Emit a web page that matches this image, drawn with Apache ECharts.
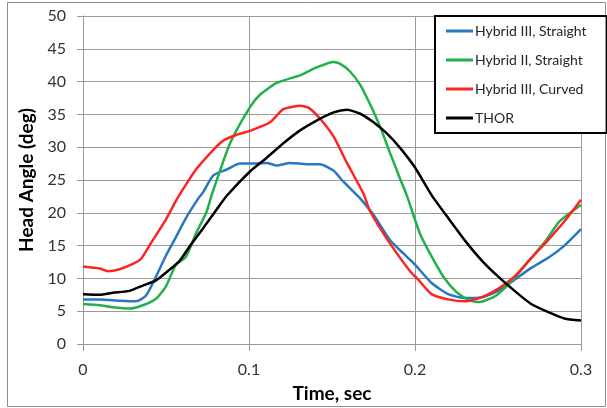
<!DOCTYPE html>
<html>
<head>
<meta charset="utf-8">
<script src="https://cdn.jsdelivr.net/npm/echarts@6/dist/echarts.min.js"></script>
<style>
  html, body { margin: 0; padding: 0; background: #fff; }
  #chart { width: 607px; height: 408px; }
</style>
</head>
<body>
<div id="chart"></div>
<script>
// values: [time (sec), head angle (deg)]
let hy3Straight = [
  [0, 6.8], [0.010, 6.8], [0.022, 6.6], [0.032, 6.5], [0.038, 7.4], [0.044, 10.3],
  [0.050, 13.5], [0.056, 16.3], [0.062, 19.2], [0.0695, 22.2], [0.0725, 23.2],
  [0.0785, 25.7], [0.0866, 26.6], [0.0946, 27.5], [0.1006, 27.5], [0.1107, 27.6],
  [0.1167, 27.2], [0.1247, 27.6], [0.1348, 27.4], [0.1428, 27.4], [0.151, 26.4],
  [0.157, 24.7], [0.165, 22.7], [0.167, 22.2], [0.175, 19.7], [0.185, 15.8],
  [0.193, 13.8], [0.200, 12.1], [0.210, 9.3], [0.220, 7.6], [0.230, 7.0],
  [0.240, 7.1], [0.250, 8.1], [0.260, 9.8], [0.270, 11.6], [0.280, 13.1],
  [0.290, 15.0], [0.300, 17.5]
]
let hy2Straight = [
  [0, 6.1], [0.010, 5.9], [0.018, 5.6], [0.028, 5.4], [0.036, 5.9], [0.044, 6.9],
  [0.050, 8.8], [0.056, 12.1], [0.062, 13.3], [0.068, 16.8], [0.0745, 20.2],
  [0.0775, 22.7], [0.0886, 30.6], [0.1006, 36.1], [0.1066, 38.0], [0.1167, 39.8],
  [0.131, 41.0], [0.141, 42.2], [0.151, 43.0], [0.155, 42.7], [0.161, 41.5],
  [0.167, 39.5], [0.173, 36.5], [0.179, 33.1], [0.185, 29.1], [0.191, 25.2],
  [0.195, 22.7], [0.199, 19.7], [0.203, 16.8], [0.209, 13.8], [0.217, 10.3],
  [0.225, 7.9], [0.233, 6.6], [0.239, 6.4], [0.249, 7.4], [0.259, 9.8],
  [0.269, 12.8], [0.279, 15.8], [0.287, 18.7], [0.300, 21.2]
]
let hy3Curved = [
  [0, 11.8], [0.010, 11.5], [0.015, 11.1], [0.022, 11.4], [0.030, 12.2], [0.035, 13.0],
  [0.040, 15.0], [0.050, 19.0], [0.0564, 22.0], [0.062, 24.3], [0.0684, 26.7], [0.0785, 29.6],
  [0.0845, 31.0], [0.0926, 31.9], [0.1006, 32.5], [0.1127, 33.8], [0.1207, 35.8],
  [0.131, 36.3], [0.136, 36.0], [0.143, 34.3], [0.151, 31.6], [0.159, 27.6],
  [0.169, 22.9], [0.173, 20.2], [0.185, 15.3], [0.197, 11.1], [0.202, 9.8],
  [0.210, 7.6], [0.220, 6.8], [0.230, 6.5], [0.240, 7.1], [0.250, 8.4],
  [0.260, 10.3], [0.270, 13.1], [0.280, 15.8], [0.290, 18.7], [0.300, 22.0]
]
let thor = [
  [0, 7.6], [0.010, 7.5], [0.018, 7.8], [0.028, 8.1], [0.036, 8.9], [0.044, 9.7],
  [0.052, 11.3], [0.058, 12.6], [0.064, 14.8], [0.0725, 17.7], [0.0805, 20.5],
  [0.0866, 22.6], [0.1006, 26.3], [0.1107, 28.4], [0.1207, 30.6], [0.131, 32.6],
  [0.141, 34.1], [0.151, 35.3], [0.159, 35.7], [0.167, 35.1], [0.175, 33.8],
  [0.183, 32.1], [0.191, 29.9], [0.200, 26.9], [0.210, 22.7], [0.220, 19.2],
  [0.230, 15.8], [0.240, 12.8], [0.250, 10.3], [0.260, 8.1], [0.270, 6.1],
  [0.280, 4.9], [0.290, 3.9], [0.300, 3.6]
]

let seriesNames = ['Hybrid III, Straight', 'Hybrid II, Straight', 'Hybrid III, Curved', 'THOR']
let seriesColors = ['#2878c0', '#22b04b', '#ff2424', '#000000']
let seriesData = [hy3Straight, hy2Straight, hy3Curved, thor]

let chart = echarts.init(document.getElementById('chart'))

let option = {
  animation: false,
  textStyle: { fontFamily: 'Lato' },
  graphic: [
    {
      type: 'rect',
      shape: { x: 7.5, y: 2.5, width: 598, height: 404 },
      style: { fill: 'none', stroke: '#8c8c8c', lineWidth: 1 },
      z: -1
    }
  ],
  grid: { left: 83, right: 26, top: 16, bottom: 55 },
  legend: {
    orient: 'vertical',
    left: 435,
    top: 16,
    padding: [7, 20, 7, 11],
    itemGap: 13,
    itemWidth: 27,
    itemHeight: 3,
    icon: 'rect',
    borderColor: '#000',
    borderWidth: 2,
    backgroundColor: '#fff',
    textStyle: { fontFamily: 'Lato', fontSize: 14, color: '#262626', lineHeight: 16, padding: [0, 0, 0, -3] },
    data: seriesNames
  },
  xAxis: {
    type: 'value',
    min: 0,
    max: 0.3,
    interval: 0.1,
    name: 'Time, sec',
    nameLocation: 'middle',
    nameGap: 40,
    nameTextStyle: { fontFamily: 'Lato', fontSize: 19, fontWeight: 'bold', color: '#000' },
    axisLine: { show: true, lineStyle: { color: '#9a9a9a', width: 1 } },
    axisTick: { show: true, length: 7, lineStyle: { color: '#9a9a9a' } },
    axisLabel: { fontFamily: 'Lato', fontSize: 16, color: '#333', margin: 18 },
    splitLine: { show: true, lineStyle: { color: '#9a9a9a', width: 1 } }
  },
  yAxis: {
    type: 'value',
    min: 0,
    max: 50,
    interval: 5,
    name: 'Head Angle (deg)',
    nameLocation: 'middle',
    nameGap: 45,
    nameRotate: 90,
    nameTextStyle: { fontFamily: 'Lato', fontSize: 19, fontWeight: 'bold', color: '#000' },
    axisLine: { show: true, lineStyle: { color: '#9a9a9a', width: 1 } },
    axisTick: { show: true, length: 6, lineStyle: { color: '#9a9a9a' } },
    axisLabel: { fontFamily: 'Lato', fontSize: 16, color: '#333', margin: 17 },
    splitLine: { show: true, lineStyle: { color: '#9a9a9a', width: 1 } }
  },
  series: seriesNames.map(function (name, i) {
    return {
      name: name,
      type: 'line',
      data: seriesData[i],
      symbol: 'none',
      smooth: 0.2,
      color: seriesColors[i],
      lineStyle: { width: 2.5, color: seriesColors[i] }
    }
  })
}

chart.setOption(option)
</script>
</body>
</html>
